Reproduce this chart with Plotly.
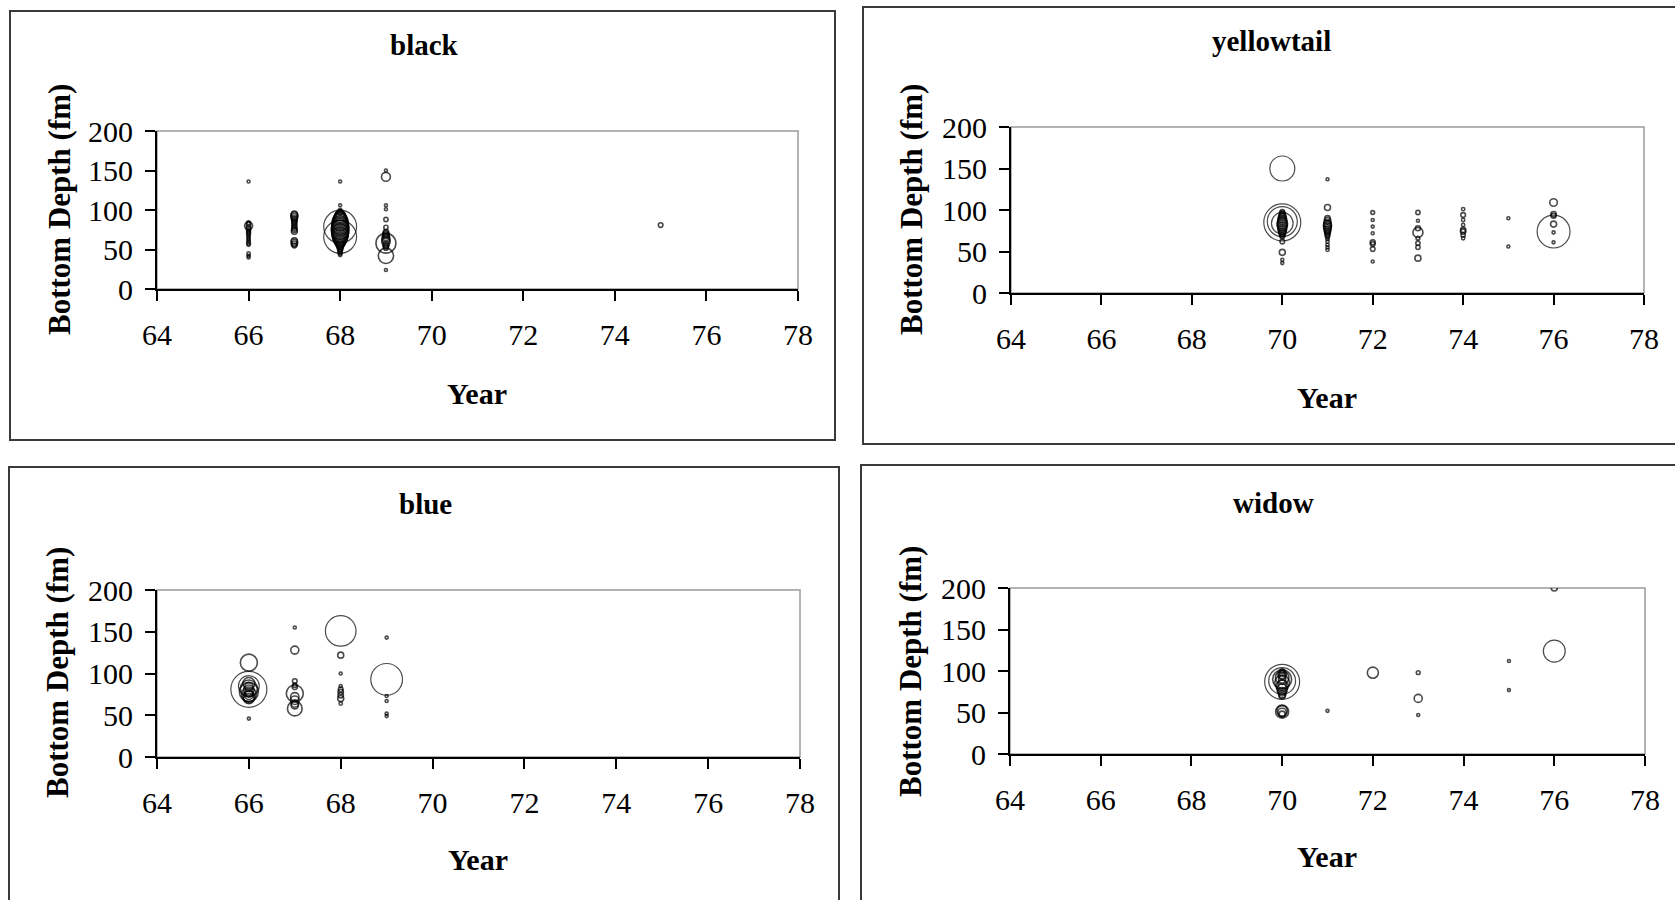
import numpy as np
import plotly.graph_objects as go

# ---------------- data ----------------
panel_titles = ["black", "yellowtail", "blue", "widow"]
x_ticks = [64, 66, 68, 70, 72, 74, 76, 78]
y_ticks = [0, 50, 100, 150, 200]

black_year = [66]*19 + [67]*16 + [68]*33 + [69]*19 + [75]
black_depth = [136, 84, 82, 80, 78, 76, 74, 72, 70, 68, 66, 64, 62, 60, 58, 56, 45, 42, 40,
               95, 93, 91, 89, 87, 85, 83, 81, 79, 77, 75, 73, 61, 59, 57, 55,
               136, 106, 100, 79, 66, 97, 95, 93, 91, 89, 87, 85, 83, 81, 79, 77, 75, 73, 71,
               69, 67, 65, 63, 61, 59, 57, 55, 53, 51, 49, 47, 45, 43,
               150, 142, 106, 101, 88, 78, 72, 70, 68, 66, 64, 62, 60, 58, 56, 54, 52, 42, 24,
               81]
black_size = [0.25, 0.4, 0.6, 1.8, 0.6, 0.5, 0.4, 0.4, 0.4, 0.3, 0.3, 0.3, 0.3, 0.3, 0.4, 0.3, 0.3, 0.3, 0.25,
              1.0, 1.5, 1.2, 1.0, 0.8, 0.7, 0.7, 0.6, 0.6, 0.8, 0.8, 1.0, 1.0, 1.2, 1.0, 0.6,
              0.25, 0.25, 0.3, 30, 30, 0.8, 2, 3, 4, 5, 6, 7, 7, 8, 8, 8, 9, 8, 8,
              7, 7, 6, 5, 4, 3, 2, 1.5, 1, 0.8, 0.6, 0.5, 0.4, 0.3,
              0.25, 2.2, 0.25, 0.25, 0.5, 0.5, 0.8, 1, 1.2, 1.5, 1.5, 1.8, 2, 11, 1, 0.8, 0.6, 6.5, 0.25,
              0.6]

yellow_year = [70]*24 + [71]*18 + [72]*8 + [73]*8 + [74]*8 + [75]*2 + [76]*7
yellow_depth = [150, 85, 86, 84, 98, 96, 94, 92, 90, 88, 86, 84, 82, 80, 78, 76, 74, 72, 70, 68,
                62, 49, 40, 36,
                137, 103, 90, 87, 84, 82, 80, 78, 76, 74, 72, 70, 68, 65, 62, 58, 55, 52,
                97, 88, 80, 72, 61, 59, 53, 38,
                97, 87, 78, 73, 66, 60, 55, 42,
                101, 94, 88, 82, 76, 74, 70, 66,
                90, 56,
                109, 95, 93, 83, 74, 73, 61]
yellow_size = [17.4, 38, 25, 13, 0.5, 0.8, 1.2, 1.5, 2, 2, 2.5, 3, 3, 2.5, 2, 2, 1.5, 1.2, 0.8, 0.6,
               0.6, 1.0, 0.25, 0.25,
               0.25, 1.0, 0.8, 1.2, 1.5, 1.8, 1.8, 1.5, 1.2, 1.0, 0.8, 0.6, 0.5, 0.3, 0.3, 0.3, 0.3, 0.3,
               0.4, 0.25, 0.25, 0.25, 0.7, 0.6, 0.6, 0.25,
               0.5, 0.25, 0.7, 2.8, 0.4, 0.5, 0.5, 1.0,
               0.3, 0.6, 0.3, 0.3, 0.7, 0.8, 0.5, 0.3,
               0.25, 0.25,
               1.6, 0.8, 0.7, 1.0, 30, 0.25, 0.25]

blue_year = [66]*14 + [67]*11 + [68]*9 + [69]*6
blue_depth = [113, 81, 85, 82, 78, 75, 88, 80, 72, 70, 77, 84, 74, 46,
              155, 128, 91, 86, 76, 72, 68, 64, 62, 58, 84,
              151, 122, 100, 85, 81, 78, 74, 70, 64,
              143, 93, 73, 67, 52, 49]
blue_size = [8, 36, 12, 8, 10, 6, 4, 3, 4, 3, 2, 2, 2, 0.25,
             0.25, 1.8, 0.6, 0.5, 8, 2, 2, 1.5, 1.5, 6, 0.8,
             26, 1.0, 0.25, 0.25, 0.6, 0.8, 0.8, 1.0, 0.3,
             0.25, 28, 0.25, 0.25, 0.25, 0.25]

widow_year = [70]*20 + [71] + [72] + [73]*3 + [75]*2 + [76]*2
widow_depth = [87, 88, 90, 92, 96, 98, 100, 94, 90, 86, 84, 82, 78, 75, 72, 70, 51, 52, 50, 48,
               52,
               98,
               98, 67, 47,
               112, 77,
               200, 124]
widow_size = [34, 20, 10, 5, 2, 1, 0.6, 1.5, 1.5, 6, 2, 4, 3, 2, 1.5, 1, 4.7, 3, 2, 1,
              0.25,
              3.4,
              0.4, 1.8, 0.25,
              0.25, 0.25,
              1.0, 13.4]

panels_data = [(black_year, black_depth, black_size),
               (yellow_year, yellow_depth, yellow_size),
               (blue_year, blue_depth, blue_size),
               (widow_year, widow_depth, widow_size)]

# ---------------- layout (pixels) ----------------
W, H = 1675, 900
plot_px = [(157, 798, 131, 289), (1011, 1644, 127, 293),
           (157, 800, 590, 757), (1010, 1645, 588, 754)]
box_px = [(10, 835, 11, 440), (863, 1690, 7, 444),
          (9, 839, 467, 910), (861, 1690, 465, 910)]
title_px = [(424, 45), (1271, 41), (425, 504), (1273, 503)]
xlab_px = [(477, 393), (1327, 397), (478, 859), (1327, 856)]
ylab_px = [(59, 210), (911, 210), (57, 673), (910, 671)]

SERIF = "Liberation Serif, Times New Roman, serif"

fig = go.Figure()
shapes = []
annotations = []

for i, ((yr, dp, sz), (x0, x1, y0, y1)) in enumerate(zip(panels_data, plot_px)):
    n = i + 1
    xa = "x" if n == 1 else f"x{n}"
    ya = "y" if n == 1 else f"y{n}"
    diam = [max(2.5, 6.0 * np.sqrt(s)) for s in sz]
    lw = [1.6 if d < 20 else 1.2 for d in diam]
    fig.add_trace(go.Scatter(
        x=yr, y=dp, mode="markers", xaxis=xa, yaxis=ya,
        marker=dict(symbol="circle", size=diam, sizemode="diameter",
                    color="rgba(0,0,0,0)",
                    line=dict(color="black", width=lw)),
        showlegend=False, hoverinfo="x+y"))
    axis_common = dict(showgrid=False, zeroline=False, ticks="outside",
                       ticklen=10, tickwidth=1.5, tickcolor="black",
                       showline=True, linecolor="black", linewidth=2,
                       automargin=False,
                       tickfont=dict(family=SERIF, size=30, color="black"))
    fig.update_layout(**{
        ("xaxis" if n == 1 else f"xaxis{n}"): dict(
            domain=[x0 / W, x1 / W], range=[64, 78], tickvals=x_ticks,
            anchor=ya, ticklabelstandoff=8, **axis_common),
        ("yaxis" if n == 1 else f"yaxis{n}"): dict(
            domain=[1 - y1 / H, 1 - y0 / H], range=[0, 200], tickvals=y_ticks,
            anchor=xa, ticklabelstandoff=6, **axis_common),
    })
    # plot-area border (gray top/right)
    shapes.append(dict(type="rect", xref=f"{xa} domain", yref=f"{ya} domain",
                       x0=0, x1=1, y0=0, y1=1, layer="below",
                       line=dict(color="#9a9a9a", width=1.5)))
    # outer chart box
    bx0, bx1, by0, by1 = box_px[i]
    shapes.append(dict(type="rect", xref="paper", yref="paper",
                       x0=bx0 / W, x1=bx1 / W, y0=1 - by1 / H, y1=1 - by0 / H,
                       line=dict(color="#3a3a3a", width=2)))
    tx, ty = title_px[i]
    annotations.append(dict(text=f"<b>{panel_titles[i]}</b>", xref="paper", yref="paper",
                            x=tx / W, y=1 - ty / H, xanchor="center", yanchor="middle",
                            showarrow=False, font=dict(family=SERIF, size=29, color="black")))
    lx, ly = xlab_px[i]
    annotations.append(dict(text="<b>Year</b>", xref="paper", yref="paper",
                            x=lx / W, y=1 - ly / H, xanchor="center", yanchor="middle",
                            showarrow=False, font=dict(family=SERIF, size=30, color="black")))
    vx, vy = ylab_px[i]
    annotations.append(dict(text="<b>Bottom Depth (fm)</b>", xref="paper", yref="paper",
                            x=vx / W, y=1 - vy / H, xanchor="center", yanchor="middle",
                            textangle=-90, showarrow=False,
                            font=dict(family=SERIF, size=31, color="black")))

fig.update_layout(width=W, height=H,
                  margin=dict(l=0, r=0, t=0, b=0, pad=0, autoexpand=False),
                  paper_bgcolor="white", plot_bgcolor="white",
                  shapes=shapes, annotations=annotations)

fig.write_html(
    "out.html",
    config={"displayModeBar": False, "responsive": False},
    post_script=("document.documentElement.style.overflow='hidden';"
                 "document.body.style.margin='0';"
                 "document.body.style.overflow='hidden';"),
)
